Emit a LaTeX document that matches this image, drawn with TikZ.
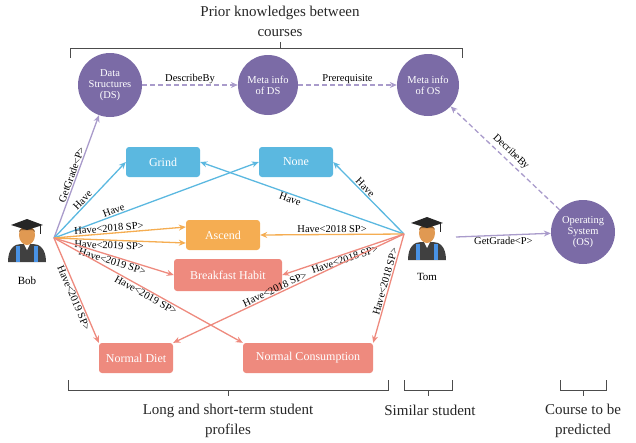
\documentclass[tikz,border=0pt]{standalone}
\usepackage{fontspec}
\setmainfont{Liberation Serif}
\usetikzlibrary{arrows.meta}
\definecolor{cpur}{HTML}{7B6BA6}
\definecolor{lpur}{HTML}{A99BCB}
\definecolor{cblue}{HTML}{5BB8E0}
\definecolor{corg}{HTML}{F5AD52}
\definecolor{csal}{HTML}{EE8A7E}
\begin{document}
\begin{tikzpicture}[x=1pt,y=-1pt,
  circ/.style={circle,fill=cpur,text=white,minimum size=62pt,inner sep=0pt,align=center,font=\fontsize{10.5}{11}\selectfont},
  box/.style={rounded corners=3pt,fill=#1,text=white,minimum height=30pt,inner sep=2pt,font=\fontsize{12}{13}\selectfont},
  lab/.style={font=\fontsize{10.5}{11}\selectfont,text=black,inner sep=1pt},
  ar/.style={draw=#1,line width=1.3pt,-{Stealth[length=7pt,width=6pt]}},
  dar/.style={ar=lpur,dashed,dash pattern=on 5pt off 3pt},
  brk/.style={draw=black!70,line width=0.8pt},
  big/.style={font=\fontsize{15}{20}\selectfont,align=center,text=black!85}]
\useasboundingbox (0,0) rectangle (636,442);
% titles & brackets
\node[big] (t1) at (280,21) {Prior knowledges between\\courses};
\draw[brk] (70,58) -- (70,48) -- (462,48) -- (462,58);
\draw[brk] (280,48) -- (280,42);
\draw[brk] (68,380) -- (68,390) -- (388,390) -- (388,380);
\draw[brk] (228,390) -- (228,396);
\node[big] (t2) at (228,421) {Long and short-term student\\profiles};
\draw[brk] (404,380) -- (404,390) -- (452,390) -- (452,380);
\draw[brk] (428,390) -- (428,396);
\node[big] (t3) at (430,410) {Similar student};
\draw[brk] (560,380) -- (560,390) -- (606,390) -- (606,380);
\draw[brk] (583,390) -- (583,396);
\node[big] (t4) at (583,421) {Course to be\\predicted};
% circles
\node[circ,minimum size=64pt] (ds) at (110,85) {Data\\Structures\\(DS)};
\node[circ,minimum size=60pt] (mds) at (268,85) {Meta info\\of DS};
\node[circ,minimum size=62pt] (mos) at (428,85) {Meta info\\of OS};
\node[circ,minimum size=64pt] (os) at (583,232) {Operating\\System\\(OS)};
% boxes
\node[box=cblue,minimum width=74pt] (grind) at (163,162) {Grind};
\node[box=cblue,minimum width=74pt] (none) at (296,162) {None};
\node[box=corg,minimum width=74pt] (asc) at (223,235) {Ascend};
\node[box=csal,minimum width=108pt,minimum height=32pt] (bf) at (228,275) {Breakfast Habit};
\node[box=csal,minimum width=74pt] (nd) at (136,358) {Normal Diet};
\node[box=csal,minimum width=130pt] (nc) at (308,358) {Normal Consumption};
% students
\foreach \n/\x/\y in {bob/27/240,tom/427/238}{
  \begin{scope}[shift={(\x,\y)}]
    \fill[black!75] (-19,22) .. controls (-19,8) and (-12,4) .. (-6,4) -- (6,4) .. controls (12,4) and (19,8) .. (19,22) -- cycle;
    \fill[cblue!80!blue] (-11,6) rectangle (-7,22);
    \fill[cblue!80!blue] (7,6) rectangle (11,22);
    \fill[white] (-3,4) -- (0,10) -- (3,4) -- cycle;
    \fill[brown!60!orange!80] (0,-5) ellipse (8pt and 10pt);
    \fill[brown!70!black] (-8,-8) .. controls (-8,-14) and (8,-14) .. (8,-8) -- (6,-10) -- (-6,-10) -- cycle;
    \fill[black!85] (-16,-15) -- (0,-21) -- (16,-15) -- (0,-10) -- cycle;
    \draw[black!85,line width=0.8pt] (13,-15) -- (13,-6);
  \end{scope}}
\node[font=\fontsize{11}{12}\selectfont] (bobl) at (27,281) {Bob};
\node[font=\fontsize{11}{12}\selectfont] (toml) at (427,277) {Tom};
\coordinate (b) at (54,238);
\coordinate (t) at (404,234);
\coordinate (tg) at (456,237);
% purple
\draw[ar=lpur] (b) -- node[lab,sloped,above] {GetGrade<P>} (ds);
\draw[dar] (ds) -- node[lab,above] {DescribeBy} (mds);
\draw[dar] (mds) -- node[lab,above] {Prerequisite} (mos);
\draw[dar] (os) -- node[lab,sloped,above=2pt] {DecribeBy} (mos);
\draw[ar=lpur] (tg) -- node[lab,below] {GetGrade<P>} (os);
% blue
\draw[ar=cblue] (b) -- node[lab,sloped,above,pos=0.45] {Have} (grind.west);
\draw[ar=cblue] (b) -- node[lab,sloped,above,pos=0.3] {Have} (none.west);
\draw[ar=cblue] (t) -- node[lab,sloped,below,pos=0.55] {Have} (grind.east);
\draw[ar=cblue] (t) -- node[lab,sloped,above,pos=0.6] {Have} (none.east);
% orange
\draw[ar=corg] (b) -- node[lab,above,sloped,pos=0.42] {Have<2018 SP>} ([yshift=8pt]asc.west);
\draw[ar=corg] (b) -- node[lab,below,sloped,pos=0.42] {Have<2019 SP>} ([yshift=-8pt]asc.west);
\draw[ar=corg] (t) -- node[lab,above,pos=0.5] {Have<2018 SP>} (asc.east);
% salmon
\draw[ar=csal] (b) -- node[lab,sloped,below,pos=0.5] {Have<2019 SP>} (bf.west);
\draw[ar=csal] (b) -- node[lab,sloped,below,pos=0.55] {Have<2019 SP>} (nd.north west);
\draw[ar=csal] (b) -- node[lab,sloped,below,pos=0.5] {Have<2019 SP>} (nc.north west);
\draw[ar=csal] (t) -- node[lab,sloped,below,pos=0.5] {Have<2018 SP>} (bf.east);
\draw[ar=csal] (t) -- node[lab,sloped,above,pos=0.55] {Have<2018 SP>} (nd.north east);
\draw[ar=csal] (t) -- node[lab,sloped,above,pos=0.45] {Have<2018 SP>} (nc.north east);
\end{tikzpicture}
\end{document}
